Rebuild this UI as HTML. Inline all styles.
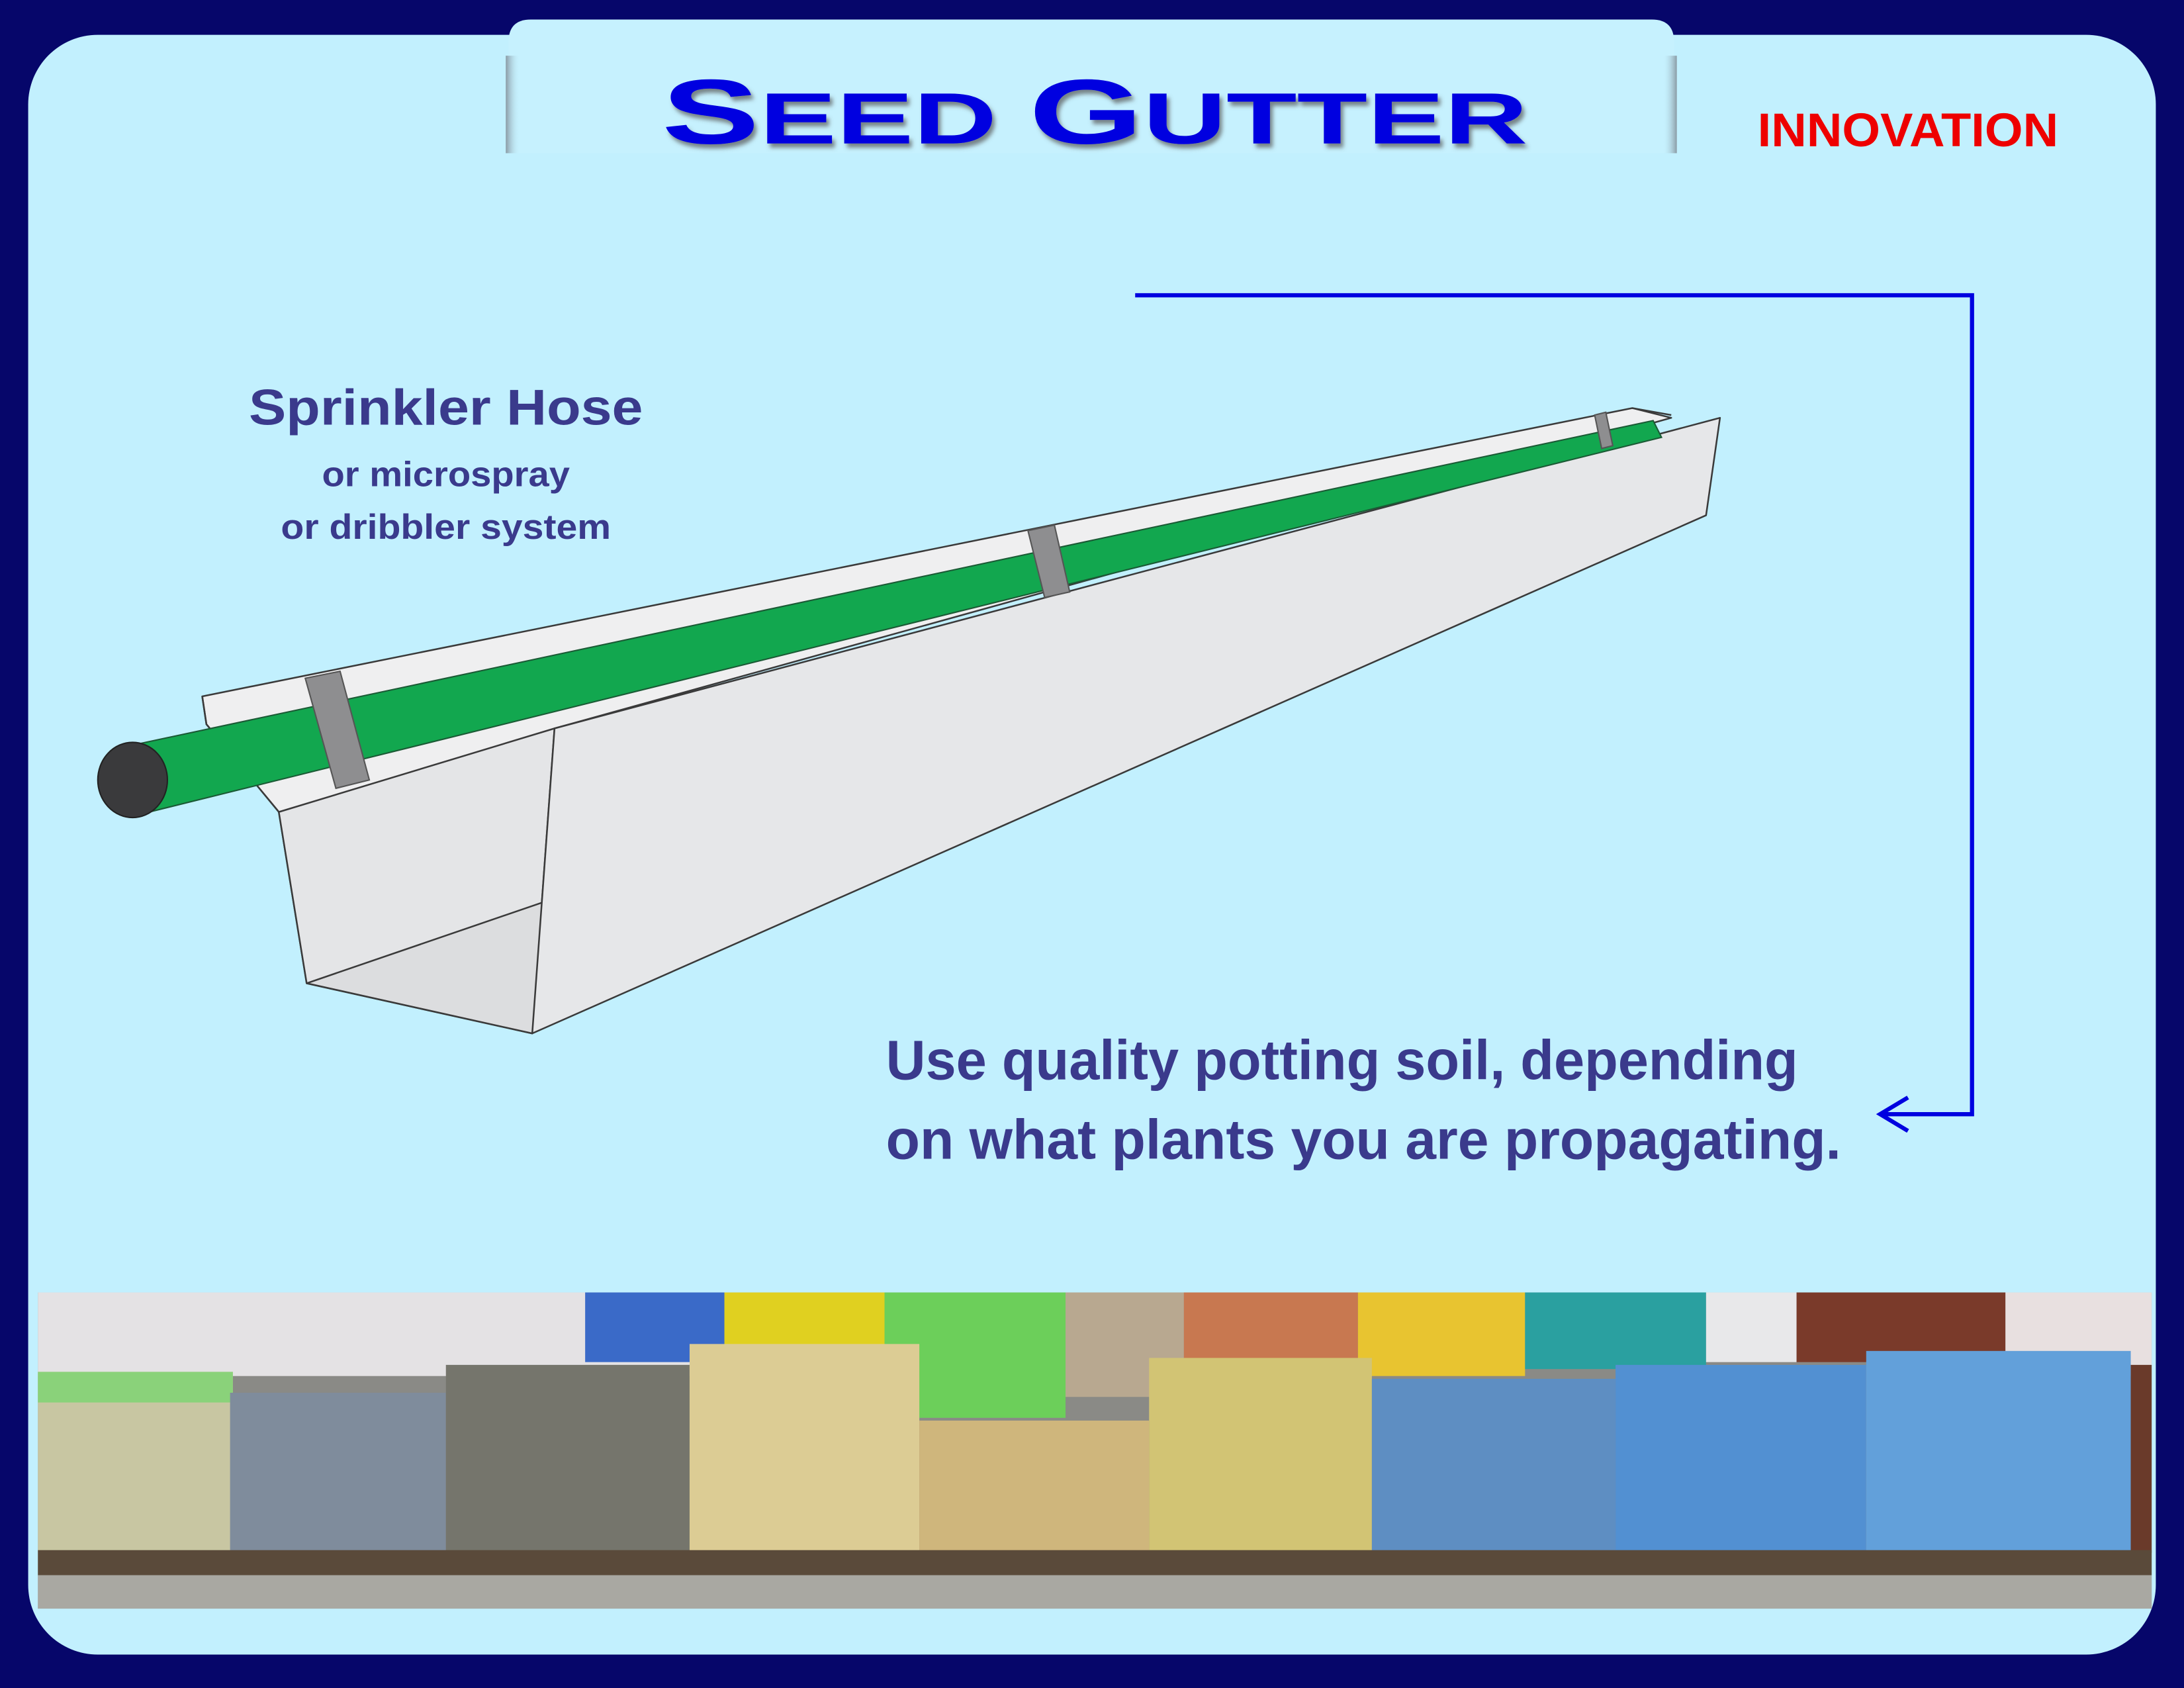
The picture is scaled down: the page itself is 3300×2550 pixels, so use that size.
<!DOCTYPE html>
<html><head><meta charset="utf-8"><style>
html,body{margin:0;padding:0;background:#06066a;}
svg{display:block}
</style></head><body>
<svg width="3300" height="2550" viewBox="0 0 1568 1212" xmlns="http://www.w3.org/2000/svg">
<defs>
<linearGradient id="shl" x1="0" x2="1" y1="0" y2="0"><stop offset="0" stop-color="#8a9aa4"/><stop offset="1" stop-color="#c4f0fe" stop-opacity="0"/></linearGradient>
<linearGradient id="shr" x1="1" x2="0" y1="0" y2="0"><stop offset="0" stop-color="#8a9aa4"/><stop offset="1" stop-color="#c4f0fe" stop-opacity="0"/></linearGradient>
<filter id="ts"><feDropShadow dx="2" dy="3" stdDeviation="1.5" flood-color="#555" flood-opacity="0.7"/></filter>
</defs>
<rect width="1568" height="1212" fill="#06066a"/>
<rect x="20" y="25" width="1528" height="1163" rx="50" fill="#c2f0fe"/>
<!-- title tab -->
<path d="M365 110 V30 Q365 14 381 14 H1186 Q1202 14 1202 30 V110 Z" fill="#c6f1fe"/>
<rect x="363" y="40" width="10" height="70" fill="url(#shl)"/>
<rect x="1194" y="40" width="10" height="70" fill="url(#shr)"/>
<text x="475" y="103" textLength="622" lengthAdjust="spacingAndGlyphs" font-family="Liberation Sans, sans-serif" font-weight="bold" fill="#0000e0" filter="url(#ts)"><tspan font-size="66">S</tspan><tspan font-size="52">EED  </tspan><tspan font-size="66">G</tspan><tspan font-size="52">UTTER</tspan></text>
<text x="1370" y="105" text-anchor="middle" font-family="Liberation Sans, sans-serif" font-weight="bold" font-size="34" fill="#ee0000" textLength="216" lengthAdjust="spacingAndGlyphs">INNOVATION</text>
<!-- connector -->
<polyline points="815,212 1416,212 1416,800 1352,800" fill="none" stroke="#0000e0" stroke-width="3"/>
<polyline points="1370,788 1350,800 1370,812" fill="none" stroke="#0000e0" stroke-width="3"/>
<!-- gutter -->
<g stroke="#3a3a3a" stroke-width="1.2" stroke-linejoin="round">
<polygon points="145,500 1172,293 1200,300 398,523 382,742 220,706 200,583 148,520" fill="#efeff0"/>
<polygon points="200,583 398,523 382,742 220,706" fill="#e4e5e7"/>
<polygon points="220,706 398,645 382,742" fill="#dcdddf"/>
<polygon points="398,523 1235,300 1225,370 382,742" fill="#e6e7e9"/>
<polyline points="145,500 148,520 200,583" fill="none"/>
<polyline points="1172,293 1200,298" fill="none"/>
</g>
<!-- hose -->
<polygon points="95,535 1187,302 1193,314 95,586" fill="#12a74f" stroke="#1b5a35" stroke-width="1"/>
<ellipse cx="95" cy="560" rx="25" ry="27" fill="#3a3a3c" stroke="#222" stroke-width="1"/>
<g fill="#8e8e90" stroke="#555" stroke-width="1">
<polygon points="219,487 244,482 265,560 241,566"/>
<polygon points="738,381 757,377 768,425 750,429"/>
<polygon points="1145,298 1153,296 1158,320 1150,322"/>
</g>
<!-- labels -->
<g font-family="Liberation Sans, sans-serif" fill="#3a3a8c" font-weight="bold">
<text x="320" y="305" text-anchor="middle" font-size="36" textLength="283" lengthAdjust="spacingAndGlyphs">Sprinkler Hose</text>
<text x="320" y="349" text-anchor="middle" font-size="25" textLength="178" lengthAdjust="spacingAndGlyphs">or microspray</text>
<text x="320" y="387" text-anchor="middle" font-size="25" textLength="237" lengthAdjust="spacingAndGlyphs">or dribbler system</text>
<text x="636" y="775" font-size="40" textLength="655" lengthAdjust="spacingAndGlyphs">Use quality potting soil, depending</text>
<text x="636" y="832" font-size="40" textLength="686" lengthAdjust="spacingAndGlyphs">on what plants you are propagating.</text>
</g>
<!-- photo strip -->
<rect x="27" y="928" width="1518" height="227" fill="#8a8a86"/>
<g>
<rect x="27" y="928" width="490" height="60" fill="#e4e2e4"/>
<rect x="420" y="928" width="100" height="50" fill="#3a6ac8"/>
<rect x="520" y="928" width="115" height="45" fill="#e0d020"/>
<rect x="635" y="928" width="130" height="90" fill="#6ccf5a"/>
<rect x="765" y="928" width="85" height="75" fill="#b8a890"/>
<rect x="850" y="928" width="125" height="50" fill="#c87850"/>
<rect x="975" y="928" width="120" height="60" fill="#e8c430"/>
<rect x="1095" y="928" width="130" height="55" fill="#2aa0a0"/>
<rect x="1225" y="928" width="65" height="50" fill="#e8e8ea"/>
<rect x="1290" y="928" width="150" height="50" fill="#7a3a2a"/>
<rect x="1440" y="928" width="105" height="60" fill="#e8e0e0"/>
<rect x="27" y="985" width="140" height="130" fill="#c8c6a2"/>
<rect x="27" y="985" width="140" height="22" fill="#8ad27a"/>
<rect x="165" y="1000" width="155" height="115" fill="#7f8c9c"/>
<rect x="320" y="980" width="175" height="135" fill="#75756c"/>
<rect x="495" y="965" width="165" height="150" fill="#dccc94"/>
<rect x="660" y="1020" width="165" height="95" fill="#cfb67c"/>
<rect x="825" y="975" width="160" height="140" fill="#d2c474"/>
<rect x="985" y="990" width="175" height="125" fill="#5e8ec2"/>
<rect x="1160" y="980" width="180" height="135" fill="#5290d2"/>
<rect x="1340" y="970" width="190" height="145" fill="#62a0da"/>
<rect x="1530" y="980" width="15" height="135" fill="#6a3a2a"/>
<rect x="27" y="1113" width="1518" height="18" fill="#5a4a3a"/>
<rect x="27" y="1131" width="1518" height="24" fill="#a9a8a2"/>
</g>
</svg>
</body></html>
